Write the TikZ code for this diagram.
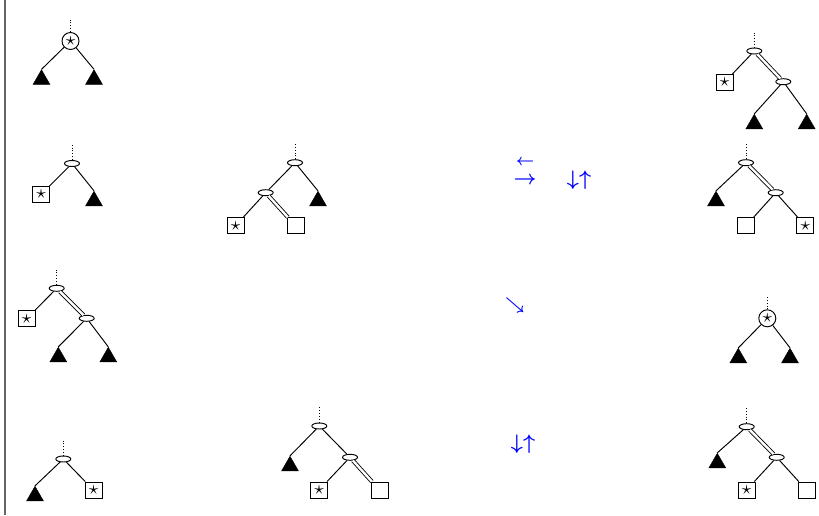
\documentclass[tikz,border=0pt]{standalone}
\usepackage{graphicx}
\usepackage{bm}
\usetikzlibrary{shapes.geometric}
\begin{document}
\begin{tikzpicture}[x=1pt,y=-1pt,
  edge/.style={line width=0.95pt},
  dbl/.style={line width=0.85pt, double, double distance=2.4pt},
  stub/.style={dotted, line width=0.9pt},
  tri/.style={regular polygon, regular polygon sides=3, fill=black, draw=black, line width=0.4pt, minimum size=19.5pt, inner sep=0pt},
  ell/.style={ellipse, draw, line width=0.95pt, minimum width=15pt, minimum height=6pt, inner sep=0pt},
  circ/.style={circle, draw, line width=0.95pt, minimum size=17pt, inner sep=0pt},
  sq/.style={rectangle, draw, line width=0.95pt, minimum width=17pt, minimum height=16pt, inner sep=0pt},
  arr/.style={text=blue, inner sep=0pt},
]
\newcommand{\stx}{\scalebox{1.9}{$\star$}}
\useasboundingbox (0,0) rectangle (819,515);
\draw[black!60, line width=1.2pt] (5,0) -- (5,515);

% Tree 1 (top left)
\node[circ] (a) at (70.5,41) {\stx};
\node[tri] (at1) at (41.5,79.5) {};
\node[tri] (at2) at (94,79.5) {};
\draw[stub] (a.north) -- +(0,-12);
\draw[edge] (a) -- (at1.corner 1);
\draw[edge] (a) -- (at2.corner 1);

% Tree 2 (row 2 left)
\node[ell] (b) at (72,163.5) {};
\node[sq] (bs) at (41,194.5) {\stx};
\node[tri] (bt) at (94,201) {};
\draw[stub] (b.north) -- +(0,-15);
\draw[edge] (b) -- (bs);
\draw[edge] (b) -- (bt.corner 1);

% Tree 3 (row 2 middle)
\node[ell] (c1) at (295,162.7) {};
\node[ell] (c2) at (265.7,192.7) {};
\node[tri] (ct) at (318,201) {};
\node[sq] (cs) at (235.5,225.7) {\stx};
\node[sq] (cr) at (295.5,225.7) {};
\draw[stub] (c1.north) -- +(0,-15);
\draw[edge] (c1) -- (c2);
\draw[edge] (c1) -- (ct.corner 1);
\draw[edge] (c2) -- (cs);
\draw[dbl] (c2) -- (cr);

% Top right tree
\node[ell] (d1) at (754.3,51) {};
\node[ell] (d2) at (783.3,81.7) {};
\node[sq] (ds) at (724.5,82.3) {\stx};
\node[tri] (dt1) at (754.3,124) {};
\node[tri] (dt2) at (806.7,124) {};
\draw[stub] (d1.north) -- +(0,-15);
\draw[edge] (d1) -- (ds);
\draw[dbl] (d1) -- (d2);
\draw[edge] (d2) -- (dt1.corner 1);
\draw[edge] (d2) -- (dt2.corner 1);

% Row 2 right tree
\node[ell] (e1) at (746,162.7) {};
\node[ell] (e2) at (775.7,192.7) {};
\node[tri] (et) at (716,201) {};
\node[sq] (er) at (746,225.7) {};
\node[sq] (es) at (805.3,225.7) {\stx};
\draw[stub] (e1.north) -- +(0,-15);
\draw[edge] (e1) -- (et.corner 1);
\draw[dbl] (e1) -- (e2);
\draw[edge] (e2) -- (er);
\draw[edge] (e2) -- (es);

% Row 3 left tree
\node[ell] (f1) at (56.7,288.3) {};
\node[ell] (f2) at (86.7,318.3) {};
\node[sq] (fs) at (26.7,318.7) {\stx};
\node[tri] (ft1) at (58.3,357) {};
\node[tri] (ft2) at (108.3,357) {};
\draw[stub] (f1.north) -- +(0,-15);
\draw[edge] (f1) -- (fs);
\draw[dbl] (f1) -- (f2);
\draw[edge] (f2) -- (ft1.corner 1);
\draw[edge] (f2) -- (ft2.corner 1);

% Row 3 right tree
\node[circ] (g) at (767.3,318.3) {\stx};
\node[tri] (gt1) at (738.3,358) {};
\node[tri] (gt2) at (790,358) {};
\draw[stub] (g.north) -- +(0,-12);
\draw[edge] (g) -- (gt1.corner 1);
\draw[edge] (g) -- (gt2.corner 1);

% Row 4 left tree
\node[ell] (h) at (63.3,459) {};
\node[tri] (ht) at (35,496) {};
\node[sq] (hs) at (93.5,490) {\stx};
\draw[stub] (h.north) -- +(0,-15);
\draw[edge] (h) -- (ht.corner 1);
\draw[edge] (h) -- (hs);

% Row 4 middle tree
\node[ell] (i1) at (319.3,426) {};
\node[ell] (i2) at (350,457.3) {};
\node[tri] (it) at (290,466) {};
\node[sq] (is) at (319,490) {\stx};
\node[sq] (ir) at (379.5,490) {};
\draw[stub] (i1.north) -- +(0,-16);
\draw[edge] (i1) -- (it.corner 1);
\draw[edge] (i1) -- (i2);
\draw[edge] (i2) -- (is);
\draw[dbl] (i2) -- (ir);

% Row 4 right tree
\node[ell] (j1) at (746.7,426.7) {};
\node[ell] (j2) at (776.7,457.3) {};
\node[tri] (jt) at (717.3,463) {};
\node[sq] (js) at (746.5,490) {\stx};
\node[sq] (jr) at (806.5,490) {};
\draw[stub] (j1.north) -- +(0,-16);
\draw[edge] (j1) -- (jt.corner 1);
\draw[dbl] (j1) -- (j2);
\draw[edge] (j2) -- (js);
\draw[edge] (j2) -- (jr);

% Blue arrows
\node[arr, scale=1.6] (l1) at (525,162.3) {$\bm{\leftarrow}$};
\node[arr, scale=2] (l2) at (525,181) {$\bm{\rightarrow}$};
\node[arr, scale=2.1] (l3) at (579,180) {$\bm{\downarrow}\bm{\uparrow}$};
\node[arr, scale=1.7] (l4) at (515,305) {$\bm{\searrow}$};
\node[arr, scale=2.1] (l5) at (523,444) {$\bm{\downarrow}\bm{\uparrow}$};
\end{tikzpicture}
\end{document}
